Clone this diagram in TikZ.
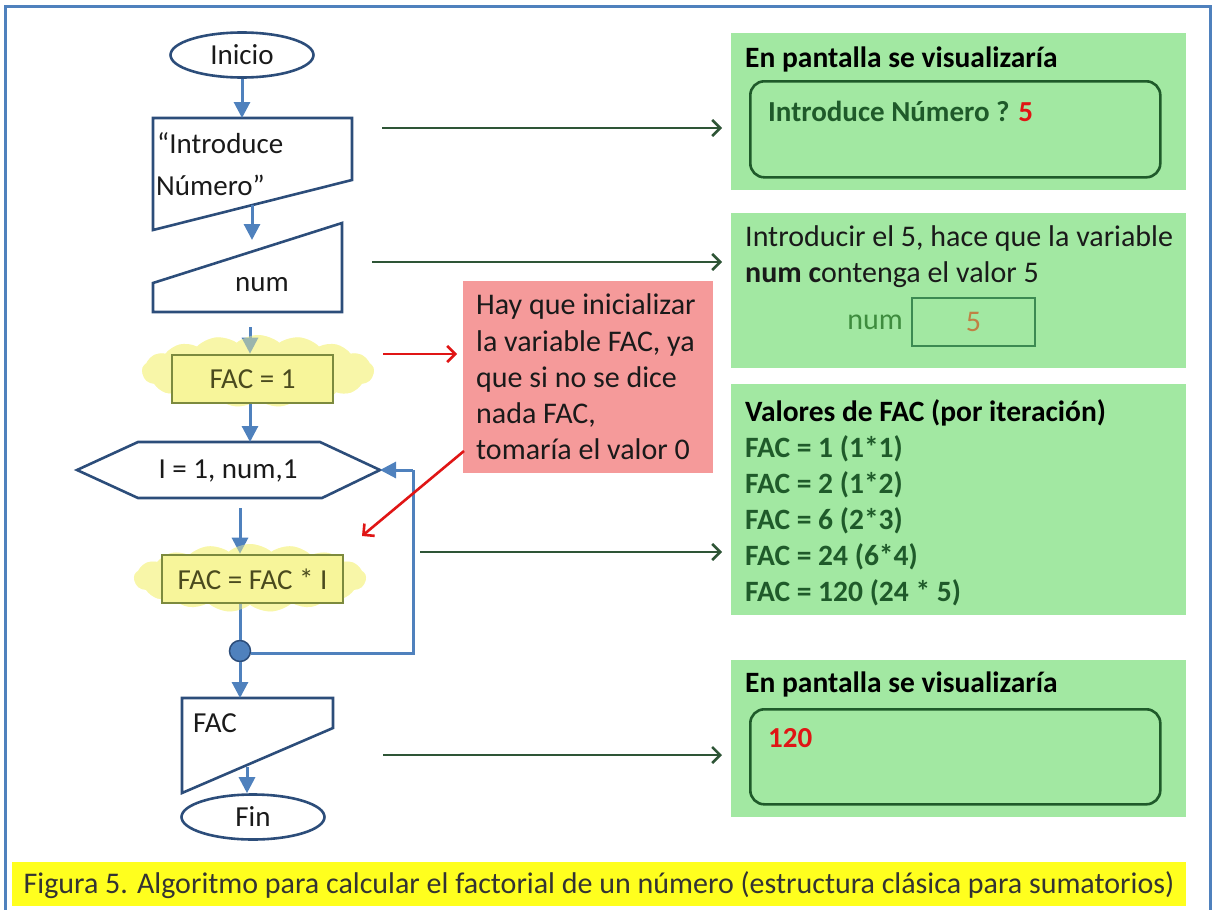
\documentclass[tikz,border=0pt]{standalone}
\usepackage{fontspec}
\setmainfont{Carlito}
\usetikzlibrary{arrows.meta,shapes.geometric,shapes.symbols}

\definecolor{frameblue}{HTML}{4F81BD}
\definecolor{shapeblue}{HTML}{2C4D7A}
\definecolor{flowblue}{HTML}{4F81BD}
\definecolor{panelgreen}{HTML}{A2E8A2}
\definecolor{textgreen}{HTML}{1F5A2A}
\definecolor{linkgreen}{HTML}{2E5536}
\definecolor{boxgreen}{HTML}{3C8A52}
\definecolor{midgreen}{HTML}{3E8C3E}
\definecolor{notepink}{HTML}{F59A9A}
\definecolor{alertred}{HTML}{E01515}
\definecolor{hlyellow}{HTML}{F7F59A}
\definecolor{olive}{HTML}{7C8A3E}
\definecolor{olivetext}{HTML}{4A4A1E}
\definecolor{capyellow}{HTML}{FFFF1E}
\definecolor{inktext}{HTML}{1A1A1A}
\definecolor{fivebrown}{HTML}{C08044}

\begin{document}
\begin{tikzpicture}[x=1pt,y=-1pt,
  fsz/.style={font=\fontsize{#1}{34}\selectfont},
  bfsz/.style={font=\bfseries\fontsize{#1}{34}\selectfont},
  shp/.style={draw=shapeblue, line width=2.6pt, line join=miter},
  term/.style={ellipse, shp, minimum width=143pt, minimum height=45pt, inner sep=0pt,
    fsz=29, text=inktext},
  flow/.style={draw=flowblue, line width=3pt,
    -{Triangle[width=16pt,length=16pt]}},
  flowline/.style={draw=flowblue, line width=3pt},
  link/.style={draw=linkgreen, line width=2.6pt, -{Straight Barb[length=8pt,width=16pt]}},
  redlink/.style={draw=alertred, line width=2.6pt, -{Straight Barb[length=8pt,width=16pt]}},
  hlbox/.style={draw=olive, line width=2.6pt, fill=hlyellow, inner sep=0pt,
    text=olivetext, fsz=29},
  blob/.style={cloud, cloud puffs=17, cloud puff arc=80, fill=hlyellow, fill opacity=0.75,
    inner sep=0pt},
  panel/.style={fill=panelgreen, anchor=north west, inner sep=0pt, minimum width=455pt},
  screen/.style={draw=textgreen, line width=2.6pt, rounded corners=14pt, anchor=north west,
    inner sep=0pt, minimum width=410pt, minimum height=96pt},
  line/.style={anchor=base west, inner sep=0pt},
]
\useasboundingbox (0,0) rectangle (1213,910);

% outer frame
\draw[frameblue, line width=3pt] (5,6) rectangle (1210,930);

% caption band
\fill[capyellow] (12,862) rectangle (1186,906);
\node[inner sep=0pt, fsz=30, text=black!80] (caption) at (599,885)
  {Figura 5. Algoritmo para calcular el factorial de un número (estructura clásica para sumatorios)};

% ---------------- flowchart ----------------
\node[term] (inicio) at (242,55) {Inicio};

% output "Introduce Número"
\draw[shp] (153,118) -- (352,118) -- (352,180) -- (153,230) -- cycle;
\node[line, fsz=29, text=inktext] (intro1) at (157,153) {“Introduce};
\node[line, fsz=29, text=inktext] (intro2) at (156,195) {Número”};
\coordinate (introtop) at (240,118);
\coordinate (introbot) at (252,205);

% manual input "num"
\draw[shp] (153,283) -- (342,223) -- (342,312) -- (153,312) -- cycle;
\node[inner sep=0pt, fsz=29, text=inktext] (numin) at (262,285) {num};
\coordinate (numtop) at (252,240);
\coordinate (numbot) at (250,327);

% FAC = 1
\node[blob, minimum width=232pt, minimum height=72pt] (blobA) at (258,371) {};
\node[hlbox, minimum width=161pt, minimum height=48pt] (fac1) at (252.5,379) {FAC = 1};

% loop header
\node[inner sep=0pt, fsz=29, text=inktext] (loop) at (228,471) {I = 1, num,1};
\draw[shp] (77,470) -- (138,442) -- (320,442) -- (380,470) -- (322,498) -- (138,498) -- cycle;
\coordinate (looptop) at (250,442);
\coordinate (loopright) at (380,470);
\coordinate (loopbot) at (240,508);

% FAC = FAC * I
\node[blob, minimum width=232pt, minimum height=68pt] (blobB) at (250,578) {};
\node[hlbox, minimum width=181pt, minimum height=48pt] (facmul) at (252.5,579) {FAC = FAC * I};

% loop connector
\node[circle, fill=flowblue, draw=shapeblue, line width=1.5pt, minimum size=21pt,
  inner sep=0pt] (join) at (240,651) {};
\coordinate (back1) at (413,653);
\coordinate (back2) at (413,470);

% output "FAC"
\draw[shp] (182,698) -- (333,698) -- (333,728) -- (182,793) -- cycle;
\node[anchor=west, inner sep=0pt, fsz=29, text=inktext] (facout) at (193,723) {FAC};
\coordinate (facouttop) at (240,698);
\coordinate (facoutbot) at (247,767);

\node[term] (fin) at (253,817) {Fin};

% flow arrows
\draw[flow] (inicio.south) -- (inicio.south |- introtop);
\draw[flow] (introbot) -- (numtop);
\draw[flow] (numbot) -- (numbot |- fac1.north);
\draw[flow] (fac1.south -| looptop) -- (looptop);
\draw[flow] (loopbot) -- (loopbot |- facmul.north);
\draw[flowline] (facmul.south -| join) -- (join.north);
\draw[flowline] (join.east |- back1) -- (back1) -- (back2);
\draw[flow] (back2) -- (loopright);
\draw[flow] (join.south) -- (facouttop);
\draw[flow] (facoutbot) -- (facoutbot |- fin.north);

% highlight laid again over the arrow heads entering the yellow boxes
\node[blob, fill opacity=0.45, minimum width=232pt, minimum height=72pt] at (258,371) {};
\node[hlbox, minimum width=161pt, minimum height=48pt] at (252.5,379) {FAC = 1};
\node[blob, fill opacity=0.45, minimum width=232pt, minimum height=68pt] at (250,578) {};
\node[hlbox, minimum width=181pt, minimum height=48pt] at (252.5,579) {FAC = FAC * I};

% ---------------- note ----------------
\node[fill=notepink, anchor=north west, minimum width=250pt, minimum height=192pt,
  inner sep=0pt] (note) at (463,281) {};
\node[line, fsz=30, text=inktext] (n1) at (476,314) {Hay que inicializar};
\node[line, fsz=30, text=inktext] (n2) at (476,351) {la variable FAC, ya};
\node[line, fsz=30, text=inktext] (n3) at (476,387) {que si no se dice};
\node[line, fsz=30, text=inktext] (n4) at (476,423) {nada FAC,};
\node[line, fsz=30, text=inktext] (n5) at (476,459) {tomaría el valor 0};
\coordinate (redA) at (383,354);
\coordinate (redB) at (464,451);
\coordinate (redBend) at (362,536);
\draw[redlink, shorten >=6pt] (redA) -- (note.west |- redA);
\draw[redlink] (redB) -- (redBend);

% ---------------- screen panels ----------------
% panel 1
\node[panel, minimum height=157pt] (p1) at (731,33) {};
\node[line, bfsz=29.5, text=black] (p1t) at (745,67) {En pantalla se visualizaría};
\node[screen] (s1) at (749,80) {};
\node[line, bfsz=29, text=textgreen] (s1t) at (768,121)
  {Introduce Número ? \textcolor{alertred}{5}};

% panel 2
\node[panel, minimum height=155pt] (p2) at (731,213) {};
\node[line, fsz=30, text=inktext] (p2a) at (745,246) {Introducir el 5, hace que la variable};
\node[line, fsz=30, text=inktext] (p2b) at (745,282) {\textbf{num c}ontenga el valor 5};
\node[draw=boxgreen, line width=2.6pt, minimum width=123pt, minimum height=48pt,
  inner sep=0pt, text=fivebrown, fsz=30] (numbox) at (973.5,322) {5};
\node[anchor=east, inner sep=0pt, fsz=30, text=midgreen] (numlbl) at (903,322) {num};

% panel 3
\node[panel, minimum height=231pt] (p3) at (731,384) {};
\node[line, bfsz=29.5, text=black] (p3t) at (745,421) {Valores de FAC (por iteración)};
\node[line, bfsz=29.5, text=textgreen] (v1) at (745,457) {FAC = 1 (1*1)};
\node[line, bfsz=29.5, text=textgreen] (v2) at (745,493) {FAC = 2 (1*2)};
\node[line, bfsz=29.5, text=textgreen] (v3) at (745,529) {FAC = 6 (2*3)};
\node[line, bfsz=29.5, text=textgreen] (v4) at (745,565) {FAC = 24 (6*4)};
\node[line, bfsz=29.5, text=textgreen] (v5) at (745,601) {FAC = 120 (24 * 5)};

% panel 4
\node[panel, minimum height=157pt] (p4) at (731,660) {};
\node[line, bfsz=29.5, text=black] (p4t) at (745,692) {En pantalla se visualizaría};
\node[screen, minimum height=95pt] (s4) at (749,708) {};
\node[line, bfsz=29, text=alertred] (s4t) at (768,747) {120};

% links to the panels
\coordinate (g1) at (382,128);
\coordinate (g2) at (372,262);
\coordinate (g3) at (420,552);
\coordinate (g4) at (383,755);
\draw[link, shorten >=9pt] (g1) -- (p1.west |- g1);
\draw[link, shorten >=9pt] (g2) -- (p2.west |- g2);
\draw[link, shorten >=9pt] (g3) -- (p3.west |- g3);
\draw[link, shorten >=9pt] (g4) -- (p4.west |- g4);
\end{tikzpicture}
\end{document}
